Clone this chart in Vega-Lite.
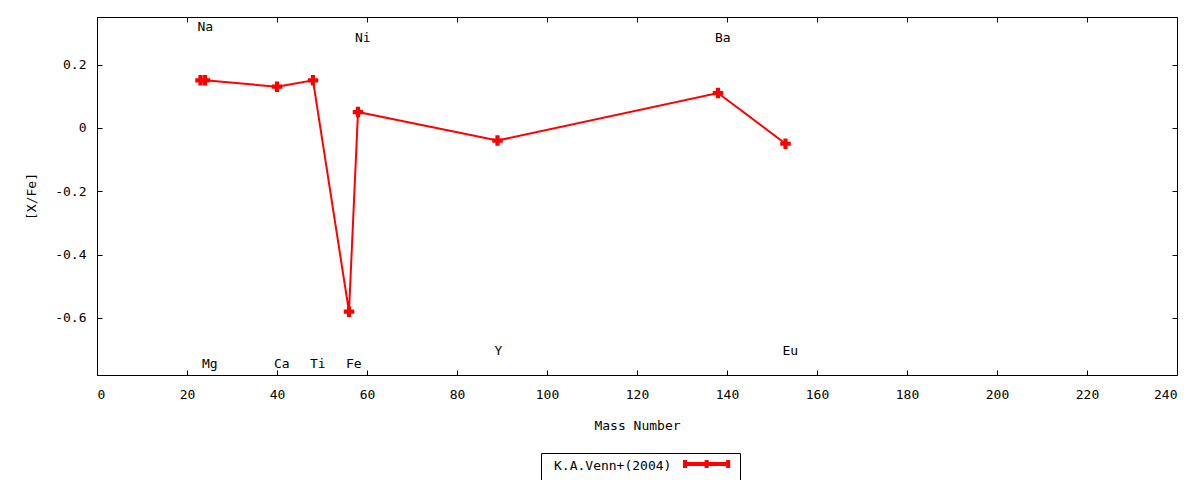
{
  "$schema": "https://vega.github.io/schema/vega-lite/v6.json",
  "width": 1080,
  "height": 358,
  "autosize": {"type": "none"},
  "padding": {"left": 97, "top": 17, "right": 23, "bottom": 105},
  "background": "white",
  "config": {
    "view": {"stroke": "black", "strokeWidth": 1},
    "font": "DejaVu Sans Mono",
    "axis": {
      "grid": false,
      "domain": false,
      "tickColor": "black",
      "tickSize": -5,
      "tickWidth": 1,
      "labelFont": "DejaVu Sans Mono",
      "labelFontSize": 13,
      "labelColor": "black",
      "titleFont": "DejaVu Sans Mono",
      "titleFontSize": 13,
      "titleFontWeight": "normal",
      "titleColor": "black"
    }
  },
  "data": {
    "values": [
      {"element": "Na", "mass": 23, "xfe": 0.15, "label_y": 0.32},
      {"element": "Mg", "mass": 24, "xfe": 0.15, "label_y": -0.745},
      {"element": "Ca", "mass": 40, "xfe": 0.13, "label_y": -0.745},
      {"element": "Ti", "mass": 48, "xfe": 0.15, "label_y": -0.745},
      {"element": "Fe", "mass": 56, "xfe": -0.58, "label_y": -0.745},
      {"element": "Ni", "mass": 58, "xfe": 0.05, "label_y": 0.285},
      {"element": "Y", "mass": 89, "xfe": -0.04, "label_y": -0.705},
      {"element": "Ba", "mass": 138, "xfe": 0.11, "label_y": 0.285},
      {"element": "Eu", "mass": 153, "xfe": -0.05, "label_y": -0.705}
    ]
  },
  "layer": [
    {
      "mark": {
        "type": "line",
        "strokeWidth": 2,
        "point": {"shape": "cross", "size": 110, "filled": true}
      },
      "encoding": {
        "x": {
          "field": "mass",
          "type": "quantitative",
          "scale": {"domain": [0, 240], "nice": false, "zero": false},
          "axis": {
            "title": "Mass Number",
            "values": [0, 20, 40, 60, 80, 100, 120, 140, 160, 180, 200, 220, 240],
            "labelPadding": 18,
            "titlePadding": 18
          }
        },
        "y": {
          "field": "xfe",
          "type": "quantitative",
          "scale": {"domain": [-0.78, 0.35], "nice": false, "zero": false},
          "axis": {
            "title": "[X/Fe]",
            "values": [-0.6, -0.4, -0.2, 0, 0.2],
            "labelExpr": "replace(format(datum.value, '~g'), '\u2212', '-')",
            "labelPadding": 16,
            "titlePadding": 16
          }
        },
        "color": {
          "datum": "K.A.Venn+(2004)",
          "type": "nominal",
          "scale": {"range": ["red"]},
          "legend": {
            "title": "K.A.Venn+(2004)",
            "titleOrient": "left",
            "titleFont": "DejaVu Sans Mono",
            "titleFontSize": 13,
            "titleFontWeight": "normal",
            "titleColor": "black",
            "titleBaseline": "middle",
            "titleLineHeight": 13,
            "titlePadding": 21,
            "labelExpr": "''",
            "labelFontSize": 1,
            "labelOffset": 0,
            "symbolType": "M-1,0L6.2,0M-1,-0.67L-1,0.67M2.6,-0.67L2.6,0.67M6.2,-0.67L6.2,0.67",
            "symbolSize": 144,
            "strokeColor": "black",
            "padding": 3,
            "orient": "none",
            "legendX": 444,
            "legendY": 436,
            "encode": {
              "title": {"update": {"dx": {"value": 10}}},
              "symbols": {"update": {"strokeWidth": {"value": 4}, "stroke": {"value": "red"}}}
            }
          }
        }
      }
    },
    {
      "mark": {
        "type": "text",
        "align": "left",
        "baseline": "middle",
        "dx": -3,
        "font": "DejaVu Sans Mono",
        "fontSize": 13,
        "color": "black"
      },
      "encoding": {
        "x": {
          "field": "mass",
          "type": "quantitative",
          "axis": {
            "orient": "top",
            "title": null,
            "labels": false,
            "values": [0, 20, 40, 60, 80, 100, 120, 140, 160, 180, 200, 220, 240]
          }
        },
        "y": {
          "field": "label_y",
          "type": "quantitative",
          "axis": {
            "orient": "right",
            "title": null,
            "labels": false,
            "values": [-0.6, -0.4, -0.2, 0, 0.2]
          }
        },
        "text": {"field": "element"}
      }
    }
  ],
  "resolve": {"axis": {"x": "independent", "y": "independent"}}
}
